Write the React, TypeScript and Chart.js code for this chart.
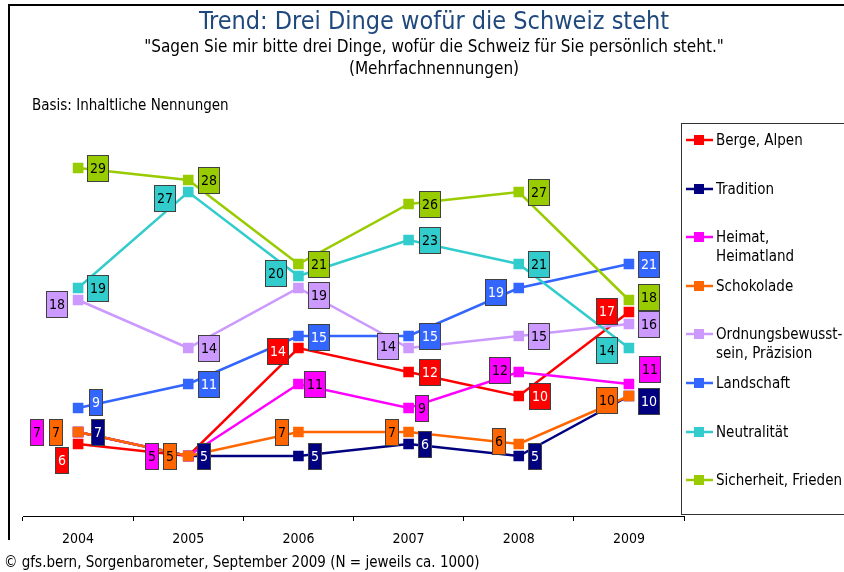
import React, { useEffect, useRef } from 'react';
import { Chart, registerables } from 'chart.js';

Chart.register(...registerables);

const years = ['2004', '2005', '2006', '2007', '2008', '2009'];
const seriesNames = [
  ['Berge, Alpen'],
  ['Tradition'],
  ['Heimat,', 'Heimatland'],
  ['Schokolade'],
  ['Ordnungsbewusst-', 'sein, Präzision'],
  ['Landschaft'],
  ['Neutralität'],
  ['Sicherheit, Frieden'],
];
const bergeAlpen = [6, 5, 14, 12, 10, 17];
const tradition = [7, 5, 5, 6, 5, 10];
const heimat = [7, 5, 11, 9, 12, 11];
const schokolade = [7, 5, 7, 7, 6, 10];
const ordnung = [18, 14, 19, 14, 15, 16];
const landschaft = [9, 11, 15, 15, 19, 21];
const neutralitaet = [19, 27, 20, 23, 21, 14];
const sicherheit = [29, 28, 21, 26, 27, 18];
const seriesValues = [bergeAlpen, tradition, heimat, schokolade, ordnung, landschaft, neutralitaet, sicherheit];

const colors = ['#FF0000', '#000080', '#FF00FF', '#FF6600', '#CC99FF', '#3366FF', '#33CCCC', '#99CC00'];
const labelTextColors = ['#FFFFFF', '#FFFFFF', '#000000', '#000000', '#000000', '#FFFFFF', '#000000', '#000000'];

// offset of each value label's box centre from its point (px); null = no label
const labelOffsets: (number[] | null)[][] = [
  [[-16, 16], null, [-20, 3], [21, 0], [21, 0], [-22, -1]],
  [[20, 0], [16, 0], [17, 0], [16, 0], [16, 0], [20, 5]],
  [[-41, 0], [-36, 0], [17, 0], [13, 0], [-19, -2], [21, -15]],
  [[-22, 0], [-18, 0], [-16, 0], [-17, 0], [-20, -3], [-22, 4]],
  [[-21, 4], [21, 0], [21, 7], [-21, -2], [20, 0], [20, 0]],
  [[18, -6], [21, 0], [21, 1], [21, 0], [-23, 4], [20, 0]],
  [[20, 0], [-23, 6], [-22, -3], [21, 0], [20, 0], [-22, 2]],
  [[20, 0], [21, 0], [21, 0], [21, 0], [20, 0], [20, -3]],
];

const FAMILY = '"DejaVu Sans Condensed", "DejaVu Sans", sans-serif';
const titleText = 'Trend: Drei Dinge wofür die Schweiz steht';
const subtitleLines = ['"Sagen Sie mir bitte drei Dinge, wofür die Schweiz für Sie persönlich steht."', '(Mehrfachnennungen)'];
const basisText = 'Basis: Inhaltliche Nennungen';
const footerText = '© gfs.bern, Sorgenbarometer, September 2009 (N = jeweils ca. 1000)';

const overlayPlugin = {
  id: 'overlay',
  afterDatasetsDraw(chart: any) {
    const ctx: CanvasRenderingContext2D = chart.ctx;
    ctx.save();
    ctx.font = `14px ${FAMILY}`;
    ctx.textAlign = 'center';
    ctx.textBaseline = 'middle';
    chart.data.datasets.forEach((ds: any, i: number) => {
      const meta = chart.getDatasetMeta(i);
      meta.data.forEach((pt: any, j: number) => {
        const off = labelOffsets[i][j];
        if (!off) return;
        const txt = String(ds.data[j]);
        const w = Math.round(ctx.measureText(txt).width + 6);
        const h = 27;
        const cx = pt.x + off[0];
        const cy = pt.y + off[1];
        const x0 = Math.round(cx - w / 2);
        const y0 = Math.round(cy - h / 2);
        ctx.fillStyle = colors[i];
        ctx.fillRect(x0, y0, w, h);
        ctx.strokeStyle = '#404040';
        ctx.lineWidth = 1;
        ctx.strokeRect(x0 + 0.5, y0 + 0.5, w - 1, h - 1);
        ctx.fillStyle = labelTextColors[i];
        ctx.fillText(txt, x0 + w / 2, y0 + h / 2 + 1);
      });
    });
    ctx.restore();
  },
  afterDraw(chart: any) {
    const ctx: CanvasRenderingContext2D = chart.ctx;
    ctx.save();
    // frame
    ctx.fillStyle = '#000';
    ctx.fillRect(8, 4, 836, 2);
    ctx.fillRect(8, 4, 2, 536);
    // titles
    ctx.textAlign = 'center';
    ctx.textBaseline = 'middle';
    ctx.fillStyle = '#1F497D';
    ctx.font = `25px ${FAMILY}`;
    ctx.fillText(titleText, 434, 22);
    ctx.fillStyle = '#000';
    ctx.font = `17px ${FAMILY}`;
    ctx.fillText(subtitleLines[0], 434, 48);
    ctx.fillText(subtitleLines[1], 434, 70);
    ctx.textAlign = 'left';
    ctx.font = `15px ${FAMILY}`;
    ctx.fillText(basisText, 32, 106);
    ctx.fillText(footerText, 4, 563);
    // x tick labels
    ctx.textAlign = 'center';
    ctx.font = `14px ${FAMILY}`;
    const xs = chart.scales.x;
    years.forEach((y, i) => {
      ctx.fillText(y, xs.getPixelForValue(i), 539);
    });
    // legend
    ctx.strokeStyle = '#333';
    ctx.lineWidth = 1;
    ctx.strokeRect(681.5, 123.5, 170, 391);
    ctx.font = `15px ${FAMILY}`;
    ctx.textAlign = 'left';
    seriesNames.forEach((lines, i) => {
      const y = Math.round(140 + i * 48.6);
      ctx.strokeStyle = colors[i];
      ctx.lineWidth = 2.5;
      ctx.beginPath();
      ctx.moveTo(686, y);
      ctx.lineTo(713, y);
      ctx.stroke();
      ctx.fillStyle = colors[i];
      ctx.fillRect(694, y - 5, 10, 10);
      ctx.fillStyle = '#000';
      lines.forEach((l, k) => ctx.fillText(l, 716, y + 1 + k * 19));
    });
    ctx.restore();
  },
};

export default function App() {
  const ref = useRef<HTMLCanvasElement | null>(null);
  useEffect(() => {
    document.body.style.margin = '0';
    const canvas = ref.current;
    if (!canvas) return;
    const chart = new Chart(canvas, {
      type: 'line',
      data: {
        labels: years,
        datasets: seriesValues.map((vals, i) => ({
          label: seriesNames[i].join(' '),
          data: vals,
          borderColor: colors[i],
          backgroundColor: colors[i],
          borderWidth: 2.5,
          pointStyle: 'rect',
          pointRadius: 7.5,
          pointBorderWidth: 0,
          pointBackgroundColor: colors[i],
          tension: 0,
          order: -i,
        })),
      },
      options: {
        responsive: false,
        animation: false,
        events: [],
        layout: { padding: { left: 23, right: 160, top: 120, bottom: 51 } },
        plugins: {
          legend: { display: false },
          title: { display: false },
          tooltip: { enabled: false },
        },
        scales: {
          x: {
            offset: true,
            grid: { drawOnChartArea: false, drawTicks: true, tickLength: 5, color: '#000', offset: true },
            border: { display: true, color: '#000', width: 1 },
            ticks: { display: false },
          },
          y: { display: false, min: 0, max: 33 },
        },
      },
      plugins: [overlayPlugin],
    } as any);
    return () => chart.destroy();
  }, []);
  return (
    <div style={{ width: 844, height: 572, background: '#fff' }}>
      <canvas ref={ref} width={844} height={572} style={{ display: 'block' }} />
    </div>
  );
}
